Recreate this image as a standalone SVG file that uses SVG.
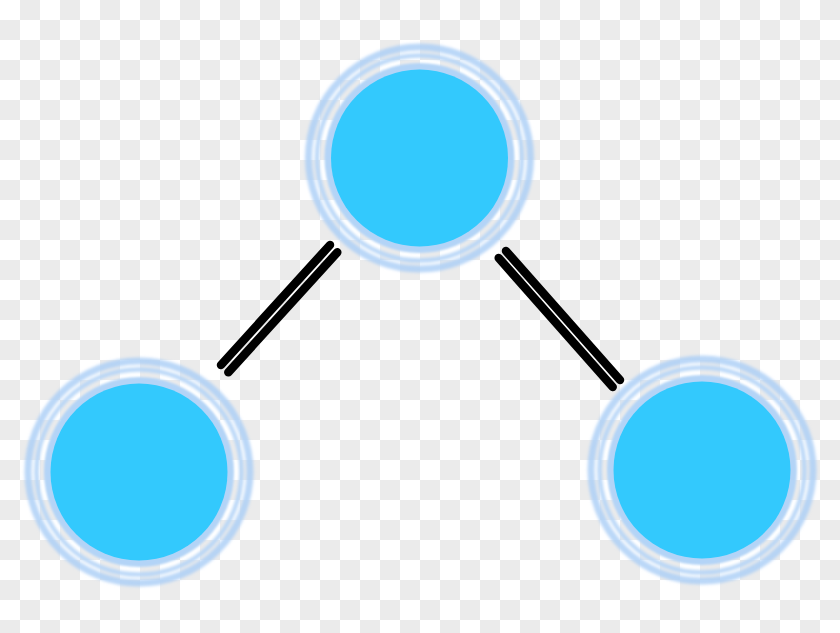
<svg xmlns="http://www.w3.org/2000/svg" width="840" height="633" viewBox="0 0 840 633">
  <defs>
    <pattern id="checker" x="0" y="0" width="40" height="40" patternUnits="userSpaceOnUse">
      <rect width="40" height="40" fill="#ffffff"/>
      <rect x="20" y="0" width="20" height="20" fill="#ebebeb"/>
      <rect x="0" y="20" width="20" height="20" fill="#ebebeb"/>
    </pattern>
    <filter id="glow" x="-30%" y="-30%" width="160%" height="160%">
      <feGaussianBlur stdDeviation="1.6"/>
    </filter>
    <filter id="soft" x="-30%" y="-30%" width="160%" height="160%">
      <feGaussianBlur stdDeviation="0.8"/>
    </filter>
  </defs>
  <style>
    .outer { fill: none; stroke: #a9cdf6; stroke-width: 7; opacity: 0.8; }
    .mid { fill: none; stroke: #b4d4f7; stroke-width: 4.5; opacity: 0.9; }
    .band { fill: #b3d4f7; }
    .core { fill: #33c9fd; }
    .edge { fill: none; stroke: #000000; stroke-width: 8.5; stroke-linecap: round; }
  </style>
  <rect width="840" height="633" fill="url(#checker)"/>

  <g id="connectors">
    <g id="edge-top-left">
      <line class="edge" x1="330" y1="245" x2="221" y2="365"/>
      <line class="edge" x1="337.3" y1="252.3" x2="228.3" y2="372.3"/>
    </g>
    <g id="edge-top-right">
      <line class="edge" x1="506" y1="251" x2="620" y2="380"/>
      <line class="edge" x1="498.7" y1="258" x2="612.7" y2="387"/>
    </g>
  </g>

  <g id="node-top" transform="translate(419.5,158)">
    <g filter="url(#glow)">
      <circle class="outer" r="111"/>
      <circle class="mid" r="102.5"/>
    </g>
    <circle class="band" r="95" filter="url(#soft)"/>
    <circle class="core" r="88.5"/>
  </g>

  <g id="node-left" transform="translate(139,472)">
    <g filter="url(#glow)">
      <circle class="outer" r="111"/>
      <circle class="mid" r="102.5"/>
    </g>
    <circle class="band" r="95" filter="url(#soft)"/>
    <circle class="core" r="88.5"/>
  </g>

  <g id="node-right" transform="translate(702,470)">
    <g filter="url(#glow)">
      <circle class="outer" r="111"/>
      <circle class="mid" r="102.5"/>
    </g>
    <circle class="band" r="95" filter="url(#soft)"/>
    <circle class="core" r="88.5"/>
  </g>
</svg>
